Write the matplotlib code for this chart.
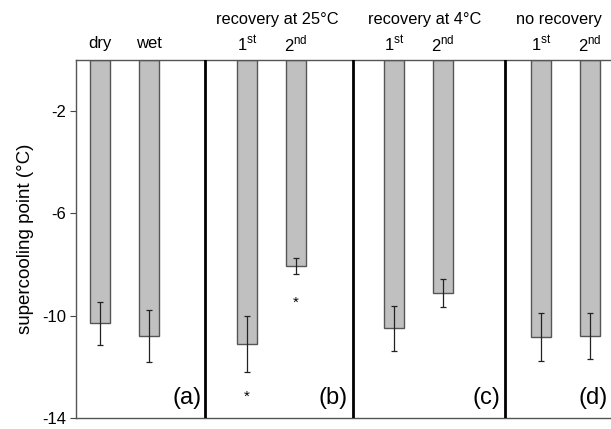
import numpy as np
import matplotlib
matplotlib.use("Agg")
import matplotlib.pyplot as plt

plt.rcParams['font.family'] = ['Liberation Sans', 'DejaVu Sans']
plt.rcParams['mathtext.fontset'] = 'custom'
plt.rcParams['mathtext.rm'] = 'Liberation Sans'

# data
bar_labels = ['dry', 'wet', '1st', '2nd', '1st', '2nd', '1st', '2nd']
means = [-10.3, -10.8, -11.1, -8.07, -10.5, -9.12, -10.84, -10.78]
errors = [0.85, 1.0, 1.09, 0.32, 0.88, 0.53, 0.95, 0.9]
group_titles = ['recovery at 25°C', 'recovery at 4°C', 'no recovery']
panel_tags = ['(a)', '(b)', '(c)', '(d)']
star_pos = [2, 3]          # bars with an asterisk
star_y = [-13.17, -9.49]

x = np.array([0, 1, 3, 4, 6, 7, 9, 10])
separators = [2.15, 5.15, 8.27]
tag_right = [2.07, 5.05, 8.17, 10.35]
title_x = [3.61, 6.63, 9.37]

fig = plt.figure(figsize=(6.11, 4.29), dpi=100)
ax = fig.add_axes([0.1244, 0.0256, 0.946, 0.8357])

ax.bar(x, means, width=0.41, color='#c0c0c0', edgecolor='#555555', linewidth=1.0, zorder=2)
ax.errorbar(x, means, yerr=errors, fmt='none', ecolor='#222222', elinewidth=0.9,
            capsize=2.5, capthick=0.9, zorder=3)

for s in separators:
    ax.axvline(s, color='black', linewidth=2.0, zorder=4)

for i, yy in zip(star_pos, star_y):
    ax.text(x[i], yy, '*', ha='center', va='center', fontsize=11)

for tag, r in zip(panel_tags, tag_right):
    ax.text(r, -13.2, tag, ha='right', va='center', fontsize=17)

# labels above the bars
for xi, lab in zip(x, bar_labels):
    if lab in ('dry', 'wet'):
        txt = lab
    else:
        txt = lab[0] + r'$^{\rm ' + lab[1:] + '}$'
    ax.text(xi, 0.62, txt, ha='center', va='center', fontsize=12, clip_on=False)

for tx, title in zip(title_x, group_titles):
    ax.text(tx, 1.55, title, ha='center', va='center', fontsize=11.8, clip_on=False)

ax.set_xlim(-0.49, 11.3)
ax.set_ylim(-14, 0)
ax.set_yticks([-2, -6, -10, -14])
ax.set_yticklabels(['-2', '-6', '-10', '-14'], fontsize=12)
ax.set_xticks([])
ax.tick_params(axis='y', direction='out', length=4, color='#444444', pad=3)
for sp in ax.spines.values():
    sp.set_color('#555555')
    sp.set_linewidth(1.0)
ax.set_ylabel('supercooling point (°C)', fontsize=13.5, labelpad=6)

fig.savefig('out.png', dpi=100)
